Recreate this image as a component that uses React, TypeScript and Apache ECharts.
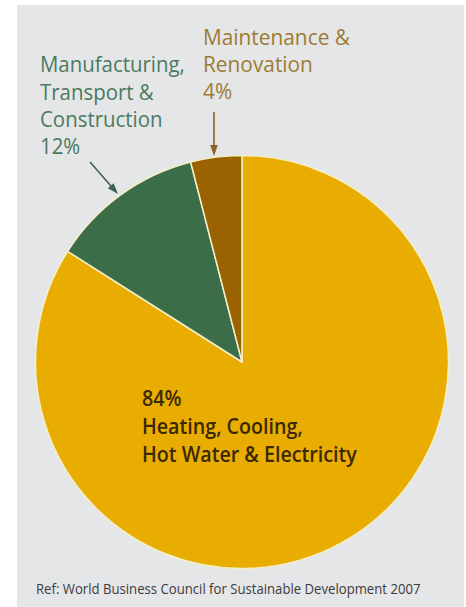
import React, { useEffect, useRef } from "react";
import * as echarts from "echarts";

// ---- data ----
const categories = [
  "Heating, Cooling, Hot Water & Electricity",
  "Manufacturing, Transport & Construction",
  "Maintenance & Renovation",
];
const values = [84, 12, 4];
const sliceColors = ["#e9ad02", "#3b6d48", "#9b6202"];
const heatingLabel = [`${values[0]}%`, "Heating, Cooling,", "Hot Water & Electricity"];
const manufacturingLabel = ["Manufacturing,", "Transport &", "Construction", `${values[1]}%`];
const maintenanceLabel = ["Maintenance &", "Renovation", `${values[2]}%`];
const sourceNote = "Ref: World Business Council for Sustainable Development 2007";

const FONT_FAMILY = '"Open Sans", "Noto Sans", sans-serif';

function measure(text: string, font: string): number {
  const c = document.createElement("canvas").getContext("2d")!;
  c.font = font;
  return c.measureText(text).width;
}

function textBlock(
  lines: string[],
  x: number,
  y0: number,
  step: number,
  fontSize: number,
  weight: number,
  fill: string,
  targetWidth: number,
  widestIndex: number
) {
  const font = `${weight} ${fontSize}px ${FONT_FAMILY}`;
  const s = targetWidth / measure(lines[widestIndex], font);
  return lines.map((t, i) => ({
    type: "text",
    x,
    y: y0 + step * i,
    scaleX: s,
    z: 100,
    style: {
      text: t,
      x: 0,
      y: 0,
      fill,
      fontSize,
      fontWeight: weight,
      fontFamily: FONT_FAMILY,
      align: "left",
      verticalAlign: "middle",
    },
  }));
}

function arrow(x1: number, y1: number, x2: number, y2: number, color: string) {
  const dx = x2 - x1;
  const dy = y2 - y1;
  const len = Math.sqrt(dx * dx + dy * dy);
  const ux = dx / len;
  const uy = dy / len;
  const headLen = 11;
  const halfW = 3.8;
  const bx = x2 - ux * headLen;
  const by = y2 - uy * headLen;
  return [
    {
      type: "line",
      z: 100,
      shape: { x1, y1, x2: bx + ux, y2: by + uy },
      style: { stroke: color, lineWidth: 1.6 },
    },
    {
      type: "polygon",
      z: 100,
      shape: {
        points: [
          [x2, y2],
          [bx - uy * halfW, by + ux * halfW],
          [bx + uy * halfW, by - ux * halfW],
        ],
      },
      style: { fill: color },
    },
  ];
}

export default function App() {
  const ref = useRef<HTMLDivElement>(null);
  useEffect(() => {
    document.body.style.margin = "0";
    const chart = echarts.init(ref.current!, null, { renderer: "svg" });
    const option = {
      animation: false,
      backgroundColor: "#ffffff",
      graphic: [
        {
          type: "rect",
          z: -10,
          shape: { x: 17, y: 5, width: 447, height: 602 },
          style: { fill: "#e5e6e8" },
        },
        ...textBlock(manufacturingLabel, 40, 63.5, 27.3, 22, 400, "#4b7a5f", 145, 0),
        ...textBlock(maintenanceLabel, 203, 36, 27.3, 22, 400, "#9c7c32", 147, 0),
        ...textBlock(heatingLabel, 142, 398, 27.6, 22, 600, "#3a2806", 215, 2),
        ...textBlock([sourceNote], 36, 588.5, 0, 15, 400, "#3c3c3c", 385, 0),
        ...arrow(90, 162, 118, 194, "#40604f"),
        ...arrow(214, 112, 214, 156, "#8a6420"),
      ],
      series: [
        {
          type: "pie",
          center: [242, 362],
          radius: 206.5,
          startAngle: 90,
          clockwise: true,
          silent: true,
          label: { show: false },
          labelLine: { show: false },
          emphasis: { disabled: true },
          itemStyle: { borderColor: "#f4efc6", borderWidth: 1.5 },
          data: categories.map((name, i) => ({
            name,
            value: values[i],
            itemStyle: { color: sliceColors[i] },
          })),
        },
      ],
    };
    chart.setOption(option as any);
    return () => chart.dispose();
  }, []);
  return <div ref={ref} style={{ width: 466, height: 607 }} />;
}
